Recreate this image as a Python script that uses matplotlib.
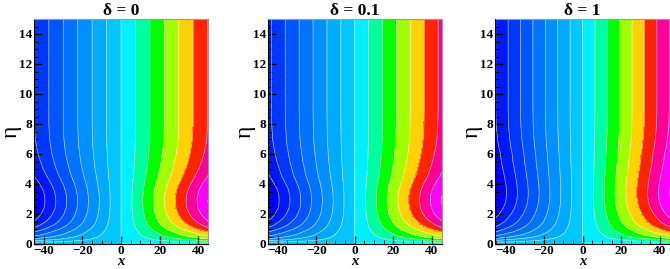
import matplotlib
matplotlib.use("Agg")
import matplotlib.pyplot as plt
from matplotlib.colors import ListedColormap, BoundaryNorm
from matplotlib.ticker import MultipleLocator
import numpy as np

plt.rcParams['font.family'] = ['Liberation Serif', 'DejaVu Serif']
plt.rcParams['font.weight'] = 'bold'

titles = ['δ = 0', 'δ = 0.1', 'δ = 1']

eta = [0, 0.1, 0.2, 0.3, 0.45, 0.6, 0.8, 1, 1.25, 1.5, 1.75, 2, 2.4, 2.8,
       3.2, 3.6, 4, 4.5, 5, 5.5, 6, 6.5, 7, 8, 9, 10, 15]
slope_0 = [0, 0.14, 0.30, 0.45, 0.60, 0.72, 0.83, 0.95, 1.07, 1.16, 1.22, 1.27, 1.32, 1.335,
           1.33, 1.30, 1.25, 1.175, 1.12, 1.08, 1.05, 1.03, 1.015, 1.005, 1.005, 1.005, 1.005]
slope_01 = [0, 0.14, 0.30, 0.45, 0.60, 0.72, 0.83, 0.95, 1.07, 1.15, 1.22, 1.27, 1.32, 1.34,
            1.335, 1.31, 1.26, 1.19, 1.15, 1.115, 1.09, 1.07, 1.056, 1.045, 1.04, 1.04, 1.04]
slope_1 = [0, 0.14, 0.28, 0.40, 0.58, 0.70, 0.83, 0.93, 1.04, 1.12, 1.17, 1.22, 1.28, 1.32,
           1.335, 1.335, 1.325, 1.30, 1.275, 1.25, 1.238, 1.21, 1.195, 1.175, 1.17, 1.17, 1.17]
slopes = [slope_0, slope_01, slope_1]

levels = [-60, -52.5, -45, -37.5, -30, -22.5, -15, -7.5, 0,
          7.5, 15, 22.5, 30, 37.5, 45, 52.5, 60]
band_colors = ['#0000ff', '#0019ff', '#0037ff', '#0055ff', '#0073ff', '#0091ff', '#00aaff', '#00c8ff',
               '#00f0ff', '#00ffa0', '#00ff00', '#a0ff00', '#ffd200', '#ff2300', '#ff0096', '#ff00ff']

x = np.arange(-45, 45.5, 1.5)

# panel boxes in pixels: left, right
boxes = [(34, 208), (268, 441.5), (495.5, 669.5)]
W, H = 670, 269
top, bottom = 19, 244

cmap = ListedColormap(band_colors)
norm = BoundaryNorm(levels, cmap.N)

fig = plt.figure(figsize=(W / 100, H / 100), dpi=100)
for (l, r), s, title in zip(boxes, slopes, titles):
    ax = fig.add_axes([l / W, 1 - bottom / H, (r - l) / W, (bottom - top) / H])
    z = np.outer(s, x)
    ax.contourf(x, eta, z, levels=levels, cmap=cmap, norm=norm)
    ax.contour(x, eta, z, levels=levels, colors='white', linewidths=0.5,
               linestyles='solid', alpha=0.7)
    ax.set_xlim(-45, 45)
    ax.set_ylim(0, 15)
    ax.xaxis.set_major_locator(MultipleLocator(20))
    ax.xaxis.set_minor_locator(MultipleLocator(5))
    ax.yaxis.set_major_locator(MultipleLocator(2))
    ax.yaxis.set_minor_locator(MultipleLocator(0.5))
    ax.tick_params(which='major', direction='in', length=6, width=1.0, labelsize=9.5, pad=1.5)
    ax.tick_params(which='minor', direction='in', length=3, width=0.7)
    ax.tick_params(axis='x', which='major', pad=0.5)
    for side in ['top', 'right']:
        ax.spines[side].set_color('#999999')
    ax.set_xlabel('x', fontsize=10.5, style='italic', fontweight='bold', labelpad=-1)
    ax.set_ylabel('η', fontsize=17, fontweight='normal', labelpad=-2)
    ax.set_title(title, fontsize=12.5, fontweight='bold', pad=3)

plt.savefig('out.png', dpi=100)
